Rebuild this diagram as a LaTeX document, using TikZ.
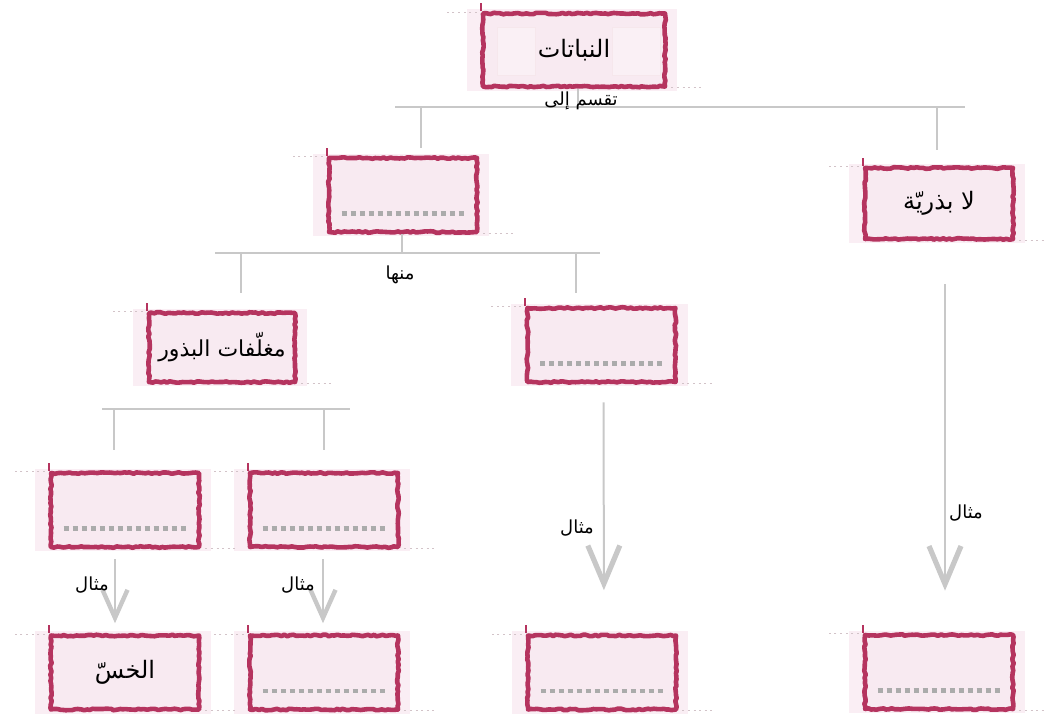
\documentclass[tikz,border=0pt]{standalone}
\usepackage{fontspec}
\newfontfamily\arabicfont[Script=Arabic]{DejaVu Sans}
\TeXXeTstate=1
\usetikzlibrary{arrows.meta,calc,decorations.pathmorphing}
\definecolor{framered}{HTML}{B5345F}
\definecolor{boxpink}{HTML}{F8EAF1}
\definecolor{washpink}{HTML}{FAEEF4}
\definecolor{linegray}{HTML}{C8C8C8}
\definecolor{dotgray}{HTML}{ABABAB}
\pgfdeclarelayer{bg}
\pgfsetlayers{bg,main}
\tikzset{
  sketchbox/.style={draw=framered, fill=boxpink, line width=2.3pt, line join=round,
    minimum width=74pt, minimum height=37pt, inner sep=0pt,
    decorate, decoration={random steps, segment length=1.5pt, amplitude=0.4pt},
    font=\arabicfont\fontsize{12}{14}\selectfont},
  wash/.style={fill=washpink},
  stray/.style={draw=framered!30!gray!40, line width=0.6pt, dash pattern=on 1pt off 1.8pt},
  edgestroke/.style={draw=framered, line width=1.2pt},
  dots/.style={draw=dotgray, line width=2.2pt, dash pattern=on 2.5pt off 2pt},
  branch/.style={draw=linegray, line width=1.1pt},
  longarrow/.style={draw=linegray, line width=1pt, -{Straight Barb[length=19pt,width=16pt,line width=2.6pt]}},
  shortarrow/.style={draw=linegray, line width=1pt, -{Straight Barb[length=14pt,width=12.5pt,line width=2.2pt]}},
  lbl/.style={inner sep=0pt, font=\arabicfont\fontsize{9}{11}\selectfont},
}
\begin{document}
\begin{tikzpicture}[x=0.5pt,y=-0.5pt]
\useasboundingbox (0,0) rectangle (1044,713);
% Boxes
\node[sketchbox, minimum width=91pt, minimum height=36.5pt] (plants) at (574,50) {\beginR النباتات\endR};
\node[sketchbox] (seedbox) at (403,195) {};
\node[sketchbox, minimum height=35.5pt] (seedless) at (939,203.5) {\beginR لا بذريّة\endR};
\node[sketchbox, minimum width=73pt, minimum height=34.5pt, font=\arabicfont\fontsize{11}{13}\selectfont] (angio) at (222,347.5) {\beginR مغلّفات البذور\endR};
\node[sketchbox] (gymno) at (601.5,345) {};
\node[sketchbox] (dicot) at (125,510) {};
\node[sketchbox] (monocot) at (324,510) {};
\node[sketchbox] (lettuce) at (125,672.5) {\beginR الخسّ\endR};
\node[sketchbox] (monoex) at (324,672.5) {};
\node[sketchbox] (gymnoex) at (602,672.5) {};
\node[sketchbox] (seedlessex) at (939,672) {};
% Brush wash and stray strokes
\begin{pgfonlayer}{bg}
\foreach \n in {plants,seedbox,seedless,angio,gymno,dicot,monocot,lettuce,monoex,gymnoex,seedlessex}
  \fill[wash] ($(\n.south west)+(-14,2)$) rectangle ($(\n.north east)+(10,-2)$);
\end{pgfonlayer}
\foreach \n in {plants,seedbox,seedless,angio,gymno,dicot,monocot,lettuce,monoex,gymnoex,seedlessex}{
  \draw[stray] ($(\n.north west)+(-4,1)$) -- ++(-32,0);
  \draw[stray] ($(\n.south east)+(4,-1)$) -- ++(32,0);
  \draw[edgestroke] (\n.north west) -- ++(0,-8);
}
\fill[white, fill opacity=0.3, draw=framered!12] (497,27) rectangle (535,75);
\fill[white, fill opacity=0.3, draw=framered!12] (612,27) rectangle (660,75);
% Placeholders
\foreach \n in {seedbox,gymno,dicot,monocot,monoex,gymnoex,seedlessex}
  \draw[dots] ($(\n.south west)+(15,-21)$) -- ($(\n.south east)+(-15,-21)$);
% Plants split
\coordinate (split1) at (578,107);
\coordinate (b1l) at (395,107);
\coordinate (b1r) at (965,107);
\coordinate (t1a) at (421,148);
\coordinate (t1b) at (937,150);
\draw[branch] (plants.south -| split1) -- (split1);
\draw[branch] (b1l) -- (b1r);
\draw[branch] (t1a |- split1) -- (t1a);
\draw[branch] (t1b |- split1) -- (t1b);
\node[lbl] (dividelbl) at (581,101) {\beginR تقسم إلى\endR};
% Seed plants split
\coordinate (split2) at (402,253);
\coordinate (b2l) at (215,253);
\coordinate (b2r) at (600,253);
\coordinate (t2a) at (241,293);
\coordinate (t2b) at (576,293);
\draw[branch] (seedbox.south -| split2) -- (split2);
\draw[branch] (b2l) -- (b2r);
\draw[branch] (t2a |- split2) -- (t2a);
\draw[branch] (t2b |- split2) -- (t2b);
\node[lbl] (fromlbl) at (400,275) {\beginR منها\endR};
% Angiosperm split
\coordinate (b3l) at (102,409);
\coordinate (b3r) at (350,409);
\coordinate (t3a) at (114,450);
\coordinate (t3b) at (324,450);
\draw[branch] (b3l) -- (b3r);
\draw[branch] (t3a |- b3l) -- (t3a);
\draw[branch] (t3b |- b3l) -- (t3b);
% Examples
\draw[longarrow, shorten <=21.5pt, shorten >=21pt] ([xshift=3pt]seedless.south) -- ([xshift=3pt]seedlessex.north);
\node[lbl] (seedlesslbl) at (966,513) {\beginR مثال\endR};
\draw[longarrow, shorten <=9pt, shorten >=21.5pt] ([xshift=1pt]gymno.south) -- ([xshift=1pt]gymnoex.north);
\node[lbl] (gymnolbl) at (577,528) {\beginR مثال\endR};
\draw[shortarrow, shorten <=5pt, shorten >=5pt] ([xshift=-5pt]dicot.south) -- ([xshift=-5pt]lettuce.north);
\node[lbl] (dicotlbl) at (92,585) {\beginR مثال\endR};
\draw[shortarrow, shorten <=5pt, shorten >=5pt] ([xshift=-0.5pt]monocot.south) -- ([xshift=-0.5pt]monoex.north);
\node[lbl] (monocotlbl) at (298,585) {\beginR مثال\endR};
\end{tikzpicture}
\end{document}
